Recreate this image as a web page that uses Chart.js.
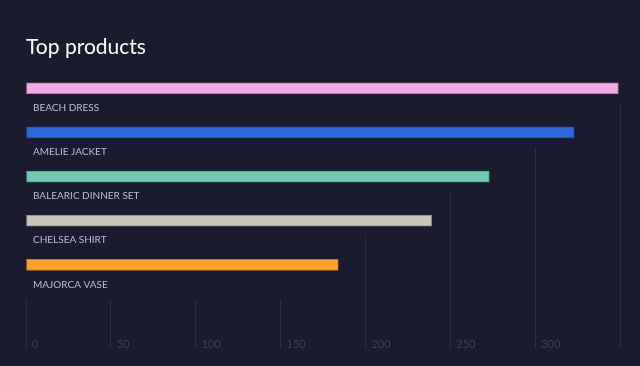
<!DOCTYPE html>
<html>
<head>
<meta charset="utf-8">
<script src="https://cdn.jsdelivr.net/npm/chart.js@4"></script>
<style>
  html, body { margin: 0; padding: 0; background: #1b1b2f; }
  #wrap { width: 640px; height: 366px; }
</style>
</head>
<body>
<div id="wrap"><canvas id="chart"></canvas></div>
<script>
const products = ['BEACH DRESS', 'AMELIE JACKET', 'BALEARIC DINNER SET', 'CHELSEA SHIRT', 'MAJORCA VASE'];
const sales = [349, 323, 273, 239, 184];
const barColors = ['#f2aae6', '#2d68d9', '#6fcab0', '#c9c5bb', '#fda12c'];
const barEdges = ['#b77fae', '#2350a8', '#529a86', '#98958d', '#c07a22'];
const xTicks = [0, 50, 100, 150, 200, 250, 300, 350];

const bg = '#1b1b2f';
const gridColor = '#2b2c45';
const titleFont = 'Lato';
const labelFont = 'Lato';

// hides the grid behind each bar row, so lines only show below the bars they pass
const gridMask = {
    id: 'gridMask',
    beforeDatasetsDraw(chart) {
        const meta = chart.getDatasetMeta(0);
        const area = chart.chartArea;
        const c = chart.ctx;
        c.save();
        c.fillStyle = bg;
        meta.data.forEach((bar, i) => {
            const next = meta.data[i + 1];
            const yEnd = next ? next.y - 28 : area.bottom + 13;
            c.fillRect(area.left - 3, area.top, bar.x + 4 - (area.left - 3), yEnd - area.top);
        });
        c.restore();
    }
};

const ctx = document.getElementById('chart').getContext('2d');
const chart = new Chart(ctx, {
    type: 'bar',
    data: {
        labels: products,
        datasets: [{
            data: sales,
            backgroundColor: barColors,
            borderColor: barEdges,
            borderWidth: 1,
            borderSkipped: false,
            barThickness: 11
        }]
    },
    options: {
        indexAxis: 'y',
        responsive: true,
        maintainAspectRatio: false,
        animation: false,
        layout: { padding: { left: 26, right: 20, top: 0, bottom: 0 } },
        scales: {
            x: {
                min: 0,
                max: 350,
                afterBuildTicks: axis => { axis.ticks = xTicks.map(v => ({ value: v })); },
                afterFit: axis => { axis.height = 79; },
                border: { display: false },
                grid: { color: gridColor, tickColor: gridColor, drawTicks: true, tickLength: 61, lineWidth: 1 },
                ticks: {
                    z: 1,
                    align: 'start',
                    labelOffset: 6,
                    padding: -10,
                    maxRotation: 0,
                    autoSkip: false,
                    color: '#3d3f5c',
                    font: { family: labelFont, size: 11 },
                    callback: v => v === 350 ? '' : String(v)
                }
            },
            y: {
                afterFit: axis => { axis.width = 0; },
                border: { display: false },
                grid: { display: false, drawTicks: false },
                ticks: {
                    z: 1,
                    mirror: true,
                    padding: 7,
                    labelOffset: 19.5,
                    color: '#bcbbdc',
                    font: { family: labelFont, size: 10 }
                }
            }
        },
        plugins: {
            legend: { display: false },
            tooltip: { enabled: false },
            title: {
                display: true,
                text: 'Top products',
                align: 'start',
                color: '#ffffff',
                font: { family: titleFont, size: 21, weight: 'normal' },
                padding: { top: 35, bottom: 6 }
            }
        }
    },
    plugins: [gridMask]
});
</script>
</body>
</html>
